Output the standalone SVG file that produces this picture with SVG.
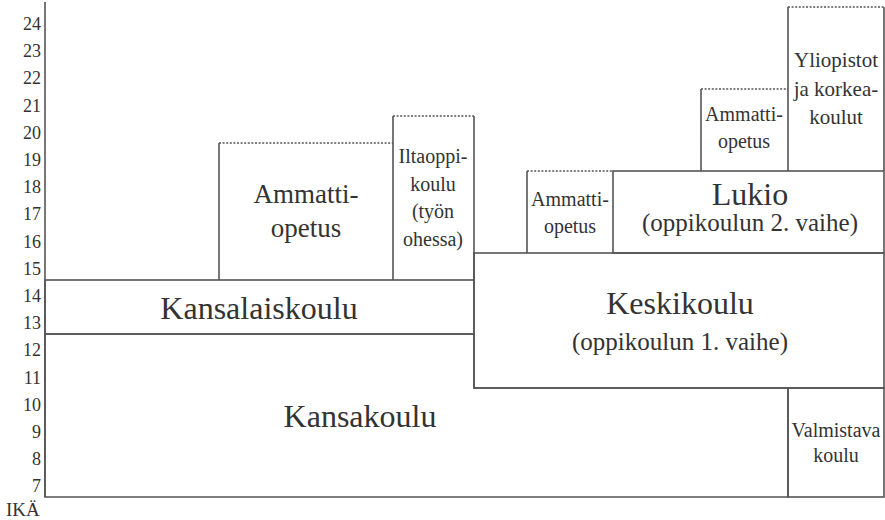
<svg xmlns="http://www.w3.org/2000/svg" width="885" height="520" viewBox="0 0 885 520" font-family="'Liberation Serif', 'DejaVu Serif', 'Times New Roman', serif">
<style>
.ln{fill:none;stroke:#555;stroke-width:1.6}
.dt{fill:none;stroke:#555;stroke-width:1.6;stroke-dasharray:2 1.6}
text{font-family:'Liberation Serif','DejaVu Serif','Times New Roman',serif;fill:#333;text-anchor:middle}
.ax{font-size:18px;text-anchor:end}
.l{font-size:32px}
.m{font-size:25px}
.s{font-size:20px}
</style>
<rect width="885" height="520" fill="#fff"/>
<g id="axis">
<line class="ln" x1="45" y1="2" x2="45" y2="497"/>
<text class="ax" x="41" y="30">24</text>
<text class="ax" x="41" y="57.2">23</text>
<text class="ax" x="41" y="84.4">22</text>
<text class="ax" x="41" y="111.6">21</text>
<text class="ax" x="41" y="138.8">20</text>
<text class="ax" x="41" y="166">19</text>
<text class="ax" x="41" y="193.2">18</text>
<text class="ax" x="41" y="220.4">17</text>
<text class="ax" x="41" y="247.6">16</text>
<text class="ax" x="41" y="274.8">15</text>
<text class="ax" x="41" y="302">14</text>
<text class="ax" x="41" y="329.2">13</text>
<text class="ax" x="41" y="356.4">12</text>
<text class="ax" x="41" y="383.6">11</text>
<text class="ax" x="41" y="410.8">10</text>
<text class="ax" x="41" y="438">9</text>
<text class="ax" x="41" y="465.2">8</text>
<text class="ax" x="41" y="492.4">7</text>
<text x="6" y="516" style="font-size:19px;text-anchor:start">IKÄ</text>
</g>
<g id="kansakoulu">
<path class="ln" d="M45,334 H474 V388 H788 V497 H45 Z"/>
<text class="l" x="360" y="427">Kansakoulu</text>
</g>
<g id="kansalaiskoulu">
<rect class="ln" x="45" y="280" width="429" height="54"/>
<text class="l" x="259" y="319">Kansalaiskoulu</text>
</g>
<g id="keskikoulu">
<rect class="ln" x="474" y="253" width="410" height="135"/>
<text class="l" x="680" y="314">Keskikoulu</text>
<text class="m" x="680" y="350">(oppikoulun 1. vaihe)</text>
</g>
<g id="valmistava">
<rect class="ln" x="788" y="388" width="96" height="109"/>
<text class="s" x="836" y="437">Valmistava</text>
<text class="s" x="836" y="462">koulu</text>
</g>
<g id="ammatti1">
<path class="ln" d="M219,143 V280"/>
<path class="dt" d="M219,143 H393"/>
<text x="306" y="203" style="font-size:27px">Ammatti-</text>
<text x="306" y="237" style="font-size:27px">opetus</text>
</g>
<g id="iltaoppikoulu">
<path class="ln" d="M393,116 V280 M474,116 V280"/>
<path class="dt" d="M393,116 H474"/>
<text class="s" x="433" y="163">Iltaoppi-</text>
<text class="s" x="433" y="191">koulu</text>
<text class="s" x="433" y="218">(työn</text>
<text class="s" x="433" y="246">ohessa)</text>
</g>
<g id="ammatti2">
<path class="ln" d="M527,171 V253"/>
<path class="dt" d="M527,171 H613"/>
<text class="s" x="570" y="206">Ammatti-</text>
<text class="s" x="570" y="233">opetus</text>
</g>
<g id="lukio">
<rect class="ln" x="613" y="171" width="271" height="82"/>
<text class="l" x="750" y="205">Lukio</text>
<text class="m" x="750" y="231">(oppikoulun 2. vaihe)</text>
</g>
<g id="ammatti3">
<path class="ln" d="M701,89 V171"/>
<path class="dt" d="M701,89 H788"/>
<text class="s" x="744" y="121">Ammatti-</text>
<text class="s" x="744" y="148">opetus</text>
</g>
<g id="yliopistot">
<path class="ln" d="M788,7 V171 M884,7 V171"/>
<path class="dt" d="M788,7 H884"/>
<text x="836" y="67" style="font-size:21px">Yliopistot</text>
<text x="836" y="96" style="font-size:21px">ja korkea-</text>
<text x="836" y="124" style="font-size:21px">koulut</text>
</g>
</svg>
